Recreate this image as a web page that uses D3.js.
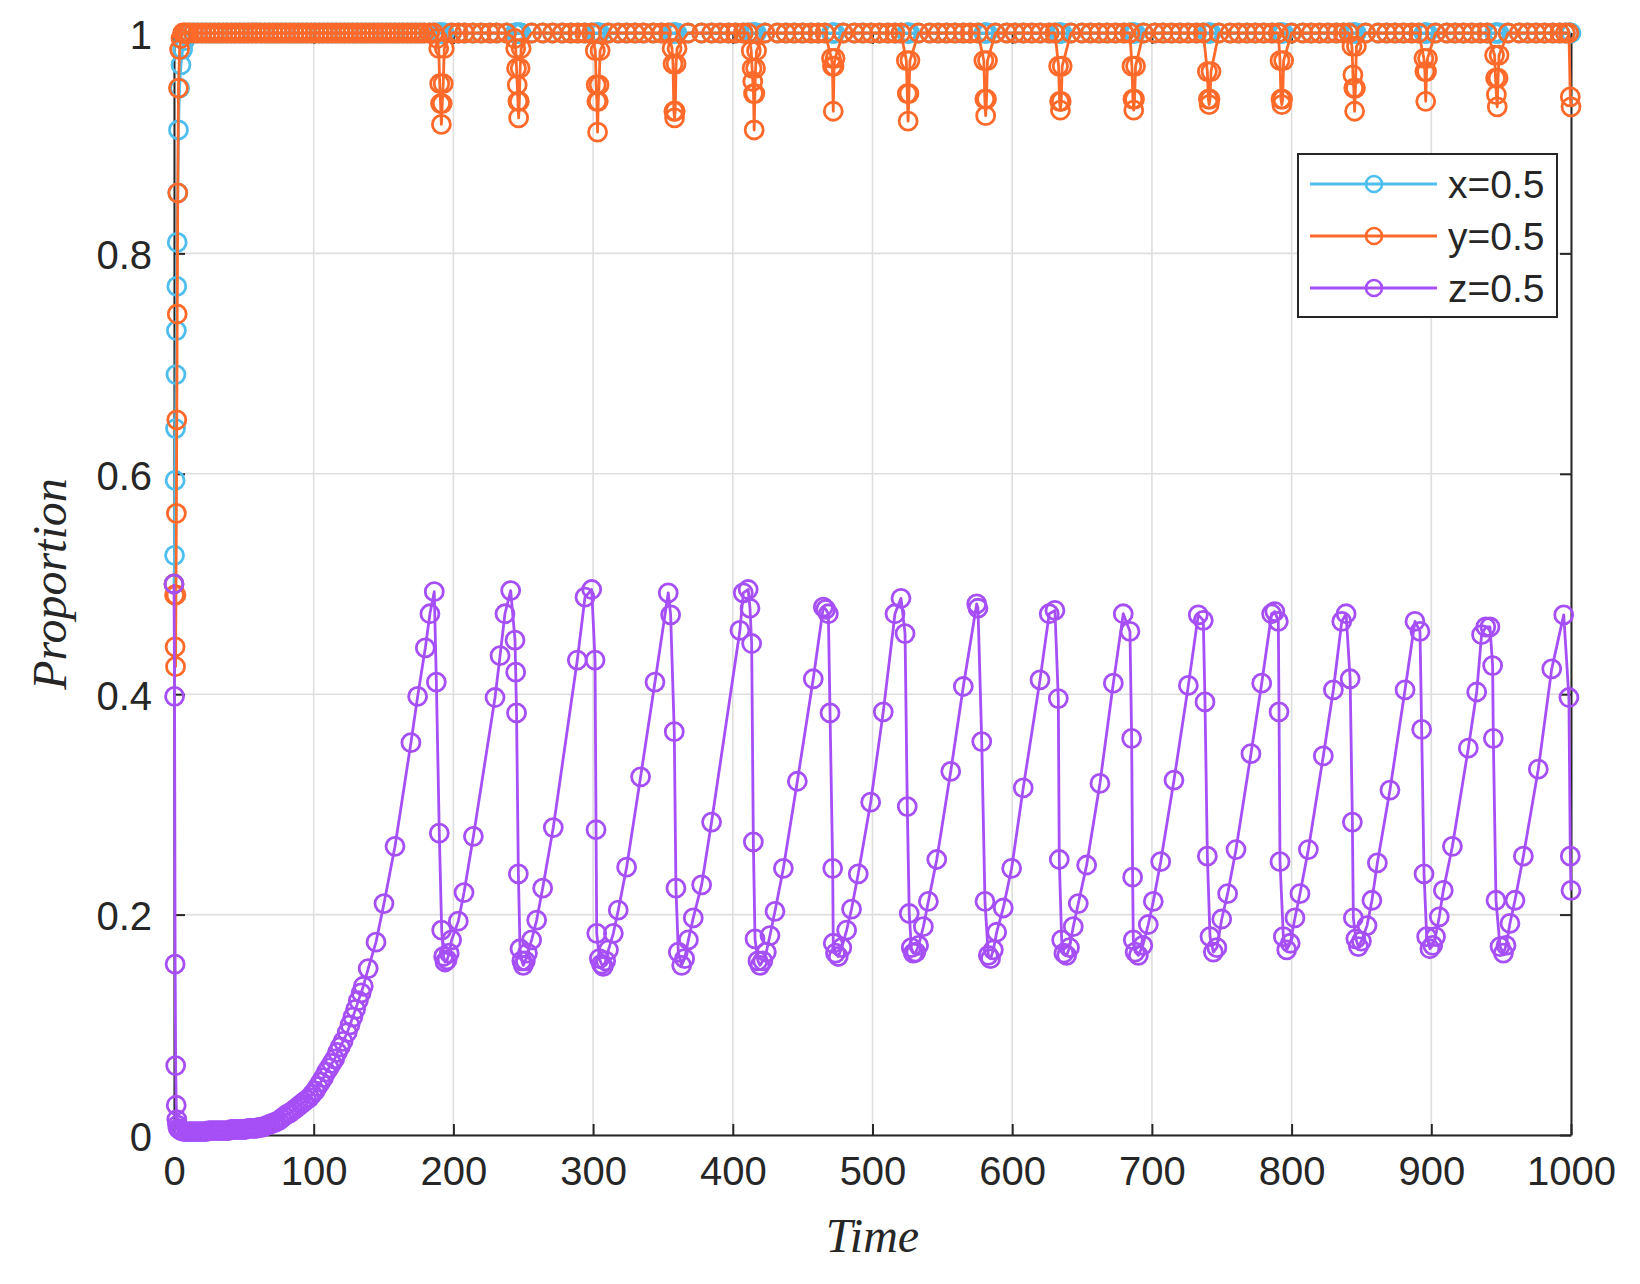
<!DOCTYPE html>
<html>
<head>
<meta charset="utf-8">
<script src="https://cdn.jsdelivr.net/npm/d3@7"></script>
<style>
  body { margin: 0; background: #ffffff; }
  svg { display: block; }
</style>
</head>
<body>
<div id="chart"></div>
<script>
'use strict';

// shared time points for x and y
var xyTime = [
  0, 0.4, 0.8, 1.1, 1.4, 1.7, 2.0, 2.3, 2.7, 3.2,
  4.0, 5.0, 6.2, 7.5, 9, 11, 14, 17, 20, 23,
  26, 29, 32, 35, 38, 41, 44, 47, 50, 53,
  56, 59, 62, 65, 68, 71, 74, 77, 80, 83,
  86, 89, 92, 95, 98, 101, 104, 107, 110, 113,
  116, 119, 122, 125, 128, 131, 134, 137, 140, 143,
  146, 149, 152, 155, 158, 161, 164, 167, 170, 173,
  176, 179, 183, 186, 188.5, 189.5, 190.2, 190.8, 191.4, 192,
  192.7, 193.5, 198.7, 203.5, 208, 214, 220, 226, 231, 238,
  244, 244.6, 245.2, 245.7, 246.2, 246.7, 247.2, 247.8, 248.5, 256,
  264, 271, 278, 284, 289, 294, 299, 301.6, 302.2, 302.7,
  303.2, 303.7, 304.3, 305, 311, 318, 324, 330, 336, 343,
  349, 354, 356.5, 357.2, 357.8, 358.3, 358.8, 359.4, 360.1, 368,
  377.7, 384.8, 391, 397, 402, 407.5, 411, 413.2, 413.8, 414.3,
  414.8, 415.3, 415.8, 416.3, 417, 423, 432, 438, 444, 450,
  456, 461, 466, 470.6, 471.3, 471.9, 472.5, 473.2, 479, 487,
  493, 499, 505, 511, 516, 520.4, 524.2, 524.9, 525.5, 526.1,
  526.8, 533, 541, 547, 553, 559, 565, 570, 575.5, 579.7,
  580.4, 581, 581.6, 582.3, 588, 596, 602, 608, 614, 620,
  626.5, 630.6, 633.2, 633.9, 634.5, 635.1, 635.8, 642, 650, 656,
  662, 668, 674, 680, 684.3, 685.7, 686.4, 687, 687.6, 688.3,
  694, 702, 708, 714, 720, 726, 732, 736.8, 739.7, 740.4,
  741, 741.6, 742.3, 748, 756, 762, 768, 774, 780, 786,
  790.5, 791.7, 792.4, 793, 793.6, 794.3, 800, 808, 814, 820,
  826, 832, 837, 841, 843.2, 843.9, 844.5, 845.1, 845.7, 846.4,
  853, 862, 868, 874, 880, 886, 891, 894.7, 895.4, 896,
  896.6, 897.3, 903, 911, 917, 923, 929, 935, 940, 945.3,
  946, 946.6, 947.2, 947.8, 948.5, 955, 963, 969, 975, 981,
  987, 992, 996, 998.5, 999.5, 1000
];

var xValue = [
  0.5, 0.526, 0.594, 0.641, 0.69, 0.73, 0.77, 0.81, 0.855, 0.912,
  0.95, 0.971, 0.985, 0.993, 0.998, 1, 1, 1, 1, 1,
  1, 1, 1, 1, 1, 1, 1, 1, 1, 1,
  1, 1, 1, 1, 1, 1, 1, 1, 1, 1,
  1, 1, 1, 1, 1, 1, 1, 1, 1, 1,
  1, 1, 1, 1, 1, 1, 1, 1, 1, 1,
  1, 1, 1, 1, 1, 1, 1, 1, 1, 1,
  1, 1, 1, 1, 1, 1, 1, 1, 1, 1,
  1, 1, 1, 1, 1, 1, 1, 1, 1, 1,
  1, 1, 1, 1, 1, 1, 1, 1, 1, 1,
  1, 1, 1, 1, 1, 1, 1, 1, 1, 1,
  1, 1, 1, 1, 1, 1, 1, 1, 1, 1,
  1, 1, 1, 1, 1, 1, 1, 1, 1, 1,
  1, 1, 1, 1, 1, 1, 1, 1, 1, 1,
  1, 1, 1, 1, 1, 1, 1, 1, 1, 1,
  1, 1, 1, 1, 1, 1, 1, 1, 1, 1,
  1, 1, 1, 1, 1, 1, 1, 1, 1, 1,
  1, 1, 1, 1, 1, 1, 1, 1, 1, 1,
  1, 1, 1, 1, 1, 1, 1, 1, 1, 1,
  1, 1, 1, 1, 1, 1, 1, 1, 1, 1,
  1, 1, 1, 1, 1, 1, 1, 1, 1, 1,
  1, 1, 1, 1, 1, 1, 1, 1, 1, 1,
  1, 1, 1, 1, 1, 1, 1, 1, 1, 1,
  1, 1, 1, 1, 1, 1, 1, 1, 1, 1,
  1, 1, 1, 1, 1, 1, 1, 1, 1, 1,
  1, 1, 1, 1, 1, 1, 1, 1, 1, 1,
  1, 1, 1, 1, 1, 1, 1, 1, 1, 1,
  1, 1, 1, 1, 1, 1, 1, 1, 1, 1,
  1, 1, 1, 1, 1, 1
];

var yValue = [
  0.5, 0.49, 0.443, 0.425, 0.49, 0.564, 0.649, 0.745, 0.855, 0.95,
  0.985, 0.995, 1, 1, 1, 1, 1, 1, 1, 1,
  1, 1, 1, 1, 1, 1, 1, 1, 1, 1,
  1, 1, 1, 1, 1, 1, 1, 1, 1, 1,
  1, 1, 1, 1, 1, 1, 1, 1, 1, 1,
  1, 1, 1, 1, 1, 1, 1, 1, 1, 1,
  1, 1, 1, 1, 1, 1, 1, 1, 1, 1,
  1, 1, 1, 1, 0.995, 0.986, 0.954, 0.936, 0.917, 0.936,
  0.954, 0.986, 1, 1, 1, 1, 1, 1, 1, 1,
  0.995, 0.986, 0.968, 0.953, 0.938, 0.923, 0.938, 0.968, 0.986, 1,
  1, 1, 1, 1, 1, 1, 1, 0.984, 0.953, 0.938,
  0.910, 0.938, 0.953, 0.984, 1, 1, 1, 1, 1, 1,
  1, 1, 0.986, 0.972, 0.929, 0.923, 0.929, 0.972, 0.986, 1,
  1, 1, 1, 1, 1, 1, 1, 0.984, 0.968, 0.956,
  0.945, 0.912, 0.945, 0.968, 0.984, 1, 1, 1, 1, 1,
  1, 1, 1, 0.977, 0.970, 0.929, 0.970, 0.977, 1, 1,
  1, 1, 1, 1, 1, 1, 0.975, 0.945, 0.920, 0.945,
  0.975, 1, 1, 1, 1, 1, 1, 1, 1, 0.975,
  0.940, 0.925, 0.940, 0.975, 1, 1, 1, 1, 1, 1,
  1, 1, 0.970, 0.938, 0.930, 0.938, 0.970, 1, 1, 1,
  1, 1, 1, 1, 1, 0.970, 0.940, 0.930, 0.940, 0.970,
  1, 1, 1, 1, 1, 1, 1, 1, 0.965, 0.940,
  0.935, 0.940, 0.965, 1, 1, 1, 1, 1, 1, 1,
  1, 0.975, 0.940, 0.935, 0.940, 0.975, 1, 1, 1, 1,
  1, 1, 1, 1, 0.988, 0.962, 0.950, 0.929, 0.950, 0.988,
  1, 1, 1, 1, 1, 1, 1, 0.977, 0.965, 0.938,
  0.965, 0.977, 1, 1, 1, 1, 1, 1, 1, 0.980,
  0.959, 0.944, 0.933, 0.959, 0.980, 1, 1, 1, 1, 1,
  1, 1, 1, 1, 0.942, 0.933
];

var zTime = [
  0, 0.4, 0.8, 1.2, 1.6, 2.0, 2.5, 3, 4, 5,
  7, 9, 11, 13, 15, 17, 19, 21, 23, 25,
  27, 29, 31, 33, 35, 37, 39, 41, 43, 45,
  47, 49, 51, 53, 55, 57, 59, 61, 63, 65,
  67, 69, 71, 73, 75, 77, 79, 81, 83, 85,
  87, 89, 91, 93, 95, 97, 99, 101, 103, 105,
  107, 109, 111, 113, 115, 117, 119, 121, 124, 126,
  128, 130, 132, 134, 135.5, 139, 144.6, 150.3, 158.2, 169.6,
  174.4, 179.9, 183.2, 186.3, 187.8, 189.9, 191.6, 193, 194, 195.5,
  197, 198.7, 203.5, 207.6, 214.3, 229.8, 233.4, 236.9, 241, 244.1,
  244.6, 245.2, 246.5, 247.7, 249, 250, 251.5, 253, 256, 259.6,
  263.9, 271.5, 288.7, 294.2, 299, 301.4, 302.1, 302.6, 304.5, 306,
  307.3, 309, 311, 314.5, 318, 324, 334, 344.3, 353.8, 355.5,
  358.1, 359.3, 361, 363.4, 365.5, 368.2, 371.7, 377.7, 384.8, 405.1,
  407.5, 411, 412.3, 413.5, 414.7, 415.9, 418, 419.5, 421.5, 424,
  426.6, 430.2, 436.2, 446.2, 457.6, 464.8, 466.5, 468.4, 469.6, 471.5,
  471.9, 473.5, 475.5, 478, 481.5, 485, 489.8, 498.7, 507.7, 516.1,
  520.4, 523.3, 524.9, 526.3, 527.8, 529.2, 531, 533, 536.4, 540,
  546, 556, 565, 574.6, 575.5, 578.2, 580.5, 582.9, 584.5, 586.5,
  588.9, 593.6, 599.6, 607.9, 619.9, 626.5, 630.6, 633, 633.7, 635.4,
  637, 639, 641, 643.7, 647.3, 653.3, 662.8, 672.4, 679.5, 684.3,
  685.5, 686.2, 686.7, 688, 690.3, 693.5, 697.4, 701, 706.3, 715.8,
  726.1, 733.2, 736.8, 738, 739.7, 741.6, 744, 746.5, 750, 754.2,
  760.2, 770.9, 778.6, 785.7, 788, 790.5, 791, 791.7, 794.1, 796.5,
  799, 802.4, 806, 812, 822.7, 829.9, 835.9, 839, 841.9, 843.5,
  844.2, 846, 847.8, 850, 854, 857.5, 861.4, 870.4, 881.2, 888.3,
  891.9, 893.1, 894.8, 896.7, 899, 901, 903, 905.7, 908.6, 915.1,
  926.5, 932.5, 936, 939, 942, 943.9, 944.4, 946.3, 949.2, 951.6,
  953.5, 956.3, 959.9, 965.9, 976.6, 986.2, 994.8, 998.5, 999.5, 1000
];

var zValue = [
  0.5, 0.398, 0.155, 0.063, 0.027, 0.014, 0.009, 0.006, 0.005, 0.004,
  0.003, 0.003, 0.003, 0.003, 0.003, 0.003, 0.003, 0.003, 0.003, 0.004,
  0.004, 0.004, 0.004, 0.004, 0.004, 0.004, 0.004, 0.005, 0.005, 0.005,
  0.005, 0.005, 0.005, 0.006, 0.006, 0.006, 0.006, 0.007, 0.007, 0.008,
  0.009, 0.010, 0.011, 0.012, 0.013, 0.015, 0.017, 0.019, 0.020, 0.022,
  0.024, 0.026, 0.028, 0.030, 0.032, 0.034, 0.037, 0.040, 0.044, 0.048,
  0.052, 0.057, 0.061, 0.065, 0.069, 0.075, 0.080, 0.085, 0.093, 0.100,
  0.107, 0.114, 0.122, 0.129, 0.135, 0.151, 0.175, 0.210, 0.262, 0.356,
  0.398, 0.442, 0.473, 0.493, 0.411, 0.274, 0.186, 0.162, 0.157, 0.159,
  0.165, 0.177, 0.194, 0.220, 0.271, 0.397, 0.435, 0.473, 0.494, 0.449,
  0.420, 0.383, 0.237, 0.169, 0.158, 0.154, 0.158, 0.165, 0.177, 0.195,
  0.224, 0.279, 0.431, 0.488, 0.495, 0.431, 0.277, 0.183, 0.160, 0.155,
  0.153, 0.158, 0.168, 0.183, 0.204, 0.243, 0.325, 0.411, 0.492, 0.472,
  0.366, 0.224, 0.166, 0.154, 0.160, 0.177, 0.197, 0.227, 0.284, 0.458,
  0.492, 0.495, 0.478, 0.446, 0.266, 0.178, 0.158, 0.154, 0.158, 0.166,
  0.181, 0.203, 0.242, 0.321, 0.414, 0.479, 0.477, 0.473, 0.383, 0.242,
  0.174, 0.165, 0.162, 0.170, 0.186, 0.205, 0.237, 0.302, 0.384, 0.473,
  0.487, 0.455, 0.298, 0.201, 0.170, 0.165, 0.166, 0.172, 0.189, 0.212,
  0.250, 0.330, 0.407, 0.482, 0.478, 0.357, 0.212, 0.163, 0.160, 0.168,
  0.184, 0.206, 0.242, 0.315, 0.413, 0.473, 0.476, 0.396, 0.250, 0.177,
  0.165, 0.163, 0.170, 0.189, 0.210, 0.245, 0.319, 0.410, 0.473, 0.457,
  0.360, 0.234, 0.177, 0.166, 0.163, 0.172, 0.191, 0.212, 0.248, 0.322,
  0.408, 0.472, 0.467, 0.393, 0.253, 0.180, 0.166, 0.170, 0.196, 0.219,
  0.259, 0.346, 0.410, 0.473, 0.475, 0.466, 0.384, 0.248, 0.180, 0.168,
  0.174, 0.197, 0.219, 0.259, 0.344, 0.404, 0.466, 0.473, 0.414, 0.284,
  0.197, 0.178, 0.171, 0.176, 0.190, 0.213, 0.247, 0.313, 0.404, 0.466,
  0.457, 0.368, 0.237, 0.180, 0.169, 0.172, 0.180, 0.198, 0.222, 0.262,
  0.351, 0.402, 0.454, 0.461, 0.461, 0.426, 0.360, 0.213, 0.171, 0.165,
  0.172, 0.192, 0.213, 0.253, 0.332, 0.423, 0.472, 0.397, 0.253, 0.222
];

var seriesNames = ["x=0.5", "y=0.5", "z=0.5"];
var seriesColors = ["#4DBEEE", "#FF6A2A", "#A64FF6"];
var xTicks = [0, 100, 200, 300, 400, 500, 600, 700, 800, 900, 1000];
var yTicks = [0, 0.2, 0.4, 0.6, 0.8, 1];

var myChart = {};

myChart.width = 1640;
myChart.height = 1284;
myChart.margin = {left: 174, right: 69, top: 33, bottom: 149};
myChart.axisColor = "#262626";
myChart.tickFont = "Arial, 'Liberation Sans', Helvetica, sans-serif";
myChart.labelFont = "'Liberation Serif', 'DejaVu Serif', 'Times New Roman', serif";
myChart.markerRadius = 9;
myChart.markerStroke = 2.8;
myChart.lineStroke = 2.8;

myChart.appendSVG = function(div, width, height){
    var svg = d3.select(div).append("svg")
                .attr("width", width)
                .attr("height", height)
                .style("background", "#ffffff");
    return svg;
}

myChart.createScaleX = function(){
    return d3.scaleLinear()
             .domain([0, 1000])
             .range([myChart.margin.left, myChart.width - myChart.margin.right]);
}

myChart.createScaleY = function(){
    return d3.scaleLinear()
             .domain([0, 1])
             .range([myChart.height - myChart.margin.bottom, myChart.margin.top]);
}

myChart.zipSeries = function(times, values){
    var n = Math.min(times.length, values.length);
    var out = [];
    for (var i = 0; i < n; i++) {
        out.push({t: times[i], v: values[i]});
    }
    return out;
}

myChart.createGrid = function(svg, xScale, yScale){
    var x0 = xScale.range()[0], x1 = xScale.range()[1];
    var y0 = yScale.range()[0], y1 = yScale.range()[1];

    var grid = svg.append("g").attr("class", "grid");

    grid.selectAll(".vgrid")
        .data(xTicks)
        .enter()
            .append("line")
            .attr("x1", function(d){ return xScale(d); })
            .attr("x2", function(d){ return xScale(d); })
            .attr("y1", y0)
            .attr("y2", y1)
            .style("stroke", "#dedede")
            .style("stroke-width", 1.6);

    grid.selectAll(".hgrid")
        .data(yTicks)
        .enter()
            .append("line")
            .attr("x1", x0)
            .attr("x2", x1)
            .attr("y1", function(d){ return yScale(d); })
            .attr("y2", function(d){ return yScale(d); })
            .style("stroke", "#dedede")
            .style("stroke-width", 1.6);
}

myChart.createAxes = function(svg, xScale, yScale){
    var x0 = xScale.range()[0], x1 = xScale.range()[1];
    var y0 = yScale.range()[0], y1 = yScale.range()[1];
    var tickLen = 11;

    // bottom axis with inward ticks
    var bottom = svg.append("g")
        .attr("transform", "translate(0," + y0 + ")")
        .call(d3.axisBottom(xScale).tickValues(xTicks).tickSizeInner(-tickLen).tickSizeOuter(0)
              .tickFormat(d3.format("d")).tickPadding(22));

    // left axis with inward ticks
    var left = svg.append("g")
        .attr("transform", "translate(" + x0 + ",0)")
        .call(d3.axisLeft(yScale).tickValues(yTicks).tickSizeInner(-tickLen).tickSizeOuter(0)
              .tickFormat(function(d){ return d === 0 || d === 1 ? String(d) : d3.format(".1f")(d); })
              .tickPadding(22));

    // top and right axes: ticks only, no labels
    var top = svg.append("g")
        .attr("transform", "translate(0," + y1 + ")")
        .call(d3.axisTop(xScale).tickValues(xTicks).tickSizeInner(-tickLen).tickSizeOuter(0)
              .tickFormat(""));

    var right = svg.append("g")
        .attr("transform", "translate(" + x1 + ",0)")
        .call(d3.axisRight(yScale).tickValues(yTicks).tickSizeInner(-tickLen).tickSizeOuter(0)
              .tickFormat(""));

    [bottom, left, top, right].forEach(function(g){
        g.select(".domain").style("stroke", myChart.axisColor).style("stroke-width", 2);
        g.selectAll(".tick line").style("stroke", myChart.axisColor).style("stroke-width", 2);
        g.selectAll(".tick text")
            .style("font-family", myChart.tickFont)
            .style("font-size", "40px")
            .style("fill", "#262626");
    });

    left.selectAll(".tick text").attr("dy", "0.38em");
    bottom.selectAll(".tick text").attr("dy", "0.71em");

    // axis labels
    svg.append("text")
        .attr("x", (x0 + x1) / 2)
        .attr("y", 1252)
        .attr("text-anchor", "middle")
        .style("font-family", myChart.labelFont)
        .style("font-style", "italic")
        .style("font-size", "48px")
        .style("fill", "#262626")
        .text("Time");

    svg.append("text")
        .attr("transform", "translate(66," + ((y0 + y1) / 2) + ") rotate(-90)")
        .attr("text-anchor", "middle")
        .style("font-family", myChart.labelFont)
        .style("font-style", "italic")
        .style("font-size", "48px")
        .style("fill", "#262626")
        .text("Proportion");
}

myChart.createSeries = function(svg, xScale, yScale, data, color){
    var g = svg.append("g");

    var line = d3.line()
                 .x(function(d){ return xScale(d.t); })
                 .y(function(d){ return yScale(d.v); });

    g.append("path")
        .datum(data)
        .attr("d", line)
        .style("fill", "none")
        .style("stroke", color)
        .style("stroke-width", myChart.lineStroke)
        .style("stroke-linejoin", "round");

    g.selectAll(".marker")
        .data(data)
        .enter()
            .append("circle")
            .classed("marker", true)
            .attr("cx", function(d){ return xScale(d.t); })
            .attr("cy", function(d){ return yScale(d.v); })
            .attr("r", myChart.markerRadius)
            .style("fill", "none")
            .style("stroke", color)
            .style("stroke-width", myChart.markerStroke);
}

myChart.createLegend = function(svg){
    var box = {x: 1298, y: 154, w: 259, h: 163};
    var g = svg.append("g");

    g.append("rect")
        .attr("x", box.x)
        .attr("y", box.y)
        .attr("width", box.w)
        .attr("height", box.h)
        .style("fill", "#ffffff")
        .style("stroke", myChart.axisColor)
        .style("stroke-width", 2);

    var rowY = d3.scalePoint().domain(seriesNames).range([box.y + 30, box.y + 134]);

    var rows = g.selectAll(".legend-row")
        .data(seriesNames)
        .enter()
            .append("g")
            .attr("transform", function(d){ return "translate(0," + rowY(d) + ")"; });

    rows.append("line")
        .attr("x1", box.x + 12)
        .attr("x2", box.x + 139)
        .attr("y1", 0)
        .attr("y2", 0)
        .style("stroke", function(d, i){ return seriesColors[i]; })
        .style("stroke-width", myChart.lineStroke);

    rows.append("circle")
        .attr("cx", box.x + 76)
        .attr("cy", 0)
        .attr("r", 8)
        .style("fill", "none")
        .style("stroke", function(d, i){ return seriesColors[i]; })
        .style("stroke-width", 2.6);

    rows.append("text")
        .attr("x", box.x + 150)
        .attr("y", 0)
        .attr("dy", "0.36em")
        .style("font-family", myChart.tickFont)
        .style("font-size", "39px")
        .style("fill", "#262626")
        .text(function(d){ return d; });
}

myChart.run = function(){
    var svg = myChart.appendSVG("#chart", myChart.width, myChart.height);
    var xScale = myChart.createScaleX();
    var yScale = myChart.createScaleY();

    myChart.createGrid(svg, xScale, yScale);
    myChart.createAxes(svg, xScale, yScale);

    myChart.createSeries(svg, xScale, yScale, myChart.zipSeries(xyTime, xValue), seriesColors[0]);
    myChart.createSeries(svg, xScale, yScale, myChart.zipSeries(xyTime, yValue), seriesColors[1]);
    myChart.createSeries(svg, xScale, yScale, myChart.zipSeries(zTime, zValue), seriesColors[2]);

    myChart.createLegend(svg);
}

window.onload = myChart.run;
</script>
</body>
</html>
